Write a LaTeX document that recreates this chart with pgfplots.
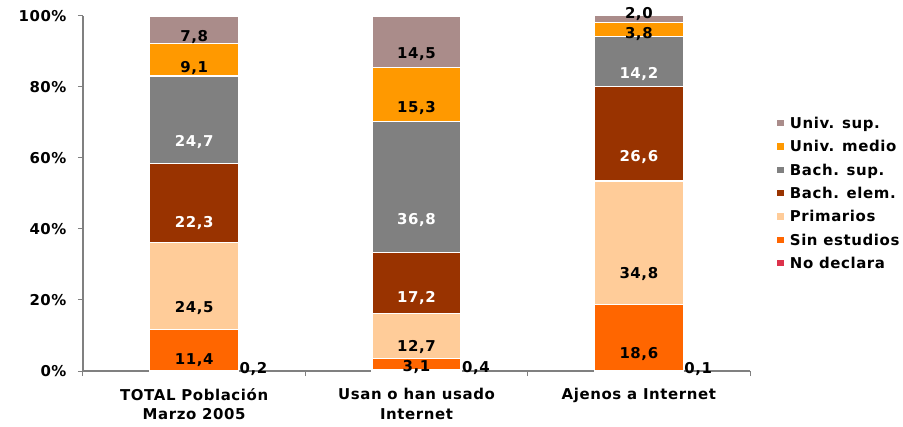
\documentclass[border=0pt]{standalone}
\usepackage{fontspec}
\setmainfont{DejaVu Sans}[LetterSpace=4]
\usepackage{pgfplots}
\usepackage{pgfplotstable}
\pgfplotsset{compat=1.18}
\definecolor{cUS}{RGB}{170,140,138}
\definecolor{cUM}{RGB}{255,153,0}
\definecolor{cBS}{RGB}{128,128,128}
\definecolor{cBE}{RGB}{153,51,0}
\definecolor{cPR}{RGB}{255,204,153}
\definecolor{cSE}{RGB}{255,102,0}
\definecolor{cND}{RGB}{220,50,75}
\newcommand{\ff}{\bfseries\fontsize{15}{19.5}\selectfont}
\newcommand{\nf}{\pgfmathprintnumber[fixed,fixed zerofill,precision=1,use comma,assume math mode=true]{\pgfplotspointmeta}}
% columns z, dum, dus: small vertical nudges of the value labels
\pgfplotstableread{
x nd se pr be bs um us z dum dus
0 0.2 11.4 24.5 22.3 24.7 9.1 7.8 0 0 0
1 0.4 3.1 12.7 17.2 36.8 15.3 14.5 0 0 0
2 0.1 18.6 34.8 26.6 14.2 3.8 2.0 0 -0.3 2.0
}\data
\pgfplotsset{
  seg/.style={fill=#1, draw=white, line width=1.2bp},
  ctr/.style n args={3}{nodes near coords={\nf}, point meta=explicit,
     visualization depends on={\thisrow{#1}/4 - \thisrow{#3} \as \half},
     every node near coord/.style={font=\ff, text=#2, anchor=center, shift={(axis direction cs:0,-\half)}}},
}
\begin{document}
\begin{tikzpicture}
\begin{axis}[name=ax, at={(0,0)}, anchor=south west,
  scale only axis, width=667bp, height=355bp,
  ybar stacked, bar width=0.4,
  xmin=-0.5, xmax=2.5, ymin=0, ymax=100,
  xtick={0,1,2},
  xticklabels={{TOTAL Población\\Marzo 2005},{Usan o han usado\\Internet},{Ajenos a Internet}},
  minor xtick={-0.5,0.5,1.5,2.5},
  ytick={0,20,40,60,80,100},
  yticklabels={0\%,20\%,40\%,60\%,80\%,100\%},
  axis x line*=bottom, axis y line*=left,
  axis line style={draw=gray, line width=1.2bp},
  every tick/.style={draw=gray, line width=1bp},
  tick align=outside,
  major tick length=5bp, minor tick length=5bp,
  major x tick style={draw=none},
  xticklabel style={font=\ff, align=center, text=black, yshift=-9bp},
  yticklabel style={font=\ff, text=black, xshift=-8bp},
  legend style={at={(1.039,0.5)}, anchor=west, draw=none, font=\ff, inner sep=0pt, row sep=6.5bp,
    /tikz/every odd column/.append style={column sep=3bp}},
  legend cell align=left,
  reverse legend,
  legend image code/.code={\fill[#1] (0bp,-3.5bp) rectangle (7.5bp,4bp);},
  clip=false,
]
\addplot[seg=cND, nodes near coords={\nf}, point meta=explicit,
  every node near coord/.style={font=\ff, text=black, anchor=base west, inner xsep=0.5bp, shift={(axis direction cs:0.2,0)}, yshift=-2.5bp}]
  table[x=x, y=nd, meta=nd] {\data};
\addplot[seg=cSE, ctr={se}{black}{z}] table[x=x, y=se, meta=se] {\data};
\addplot[seg=cPR, ctr={pr}{black}{z}] table[x=x, y=pr, meta=pr] {\data};
\addplot[seg=cBE, ctr={be}{white}{z}] table[x=x, y=be, meta=be] {\data};
\addplot[seg=cBS, ctr={bs}{white}{z}] table[x=x, y=bs, meta=bs] {\data};
\addplot[seg=cUM, ctr={um}{black}{dum}] table[x=x, y=um, meta=um] {\data};
\addplot[seg=cUS, ctr={us}{black}{dus}] table[x=x, y=us, meta=us] {\data};
\legend{No declara, Sin estudios, Primarios, Bach. elem., Bach. sup., Univ. medio, Univ. sup.}
\end{axis}
\pgfresetboundingbox
\path (ax.south west) ++(-83bp,-56bp) rectangle ++(903bp,427bp);
\end{tikzpicture}
\end{document}
